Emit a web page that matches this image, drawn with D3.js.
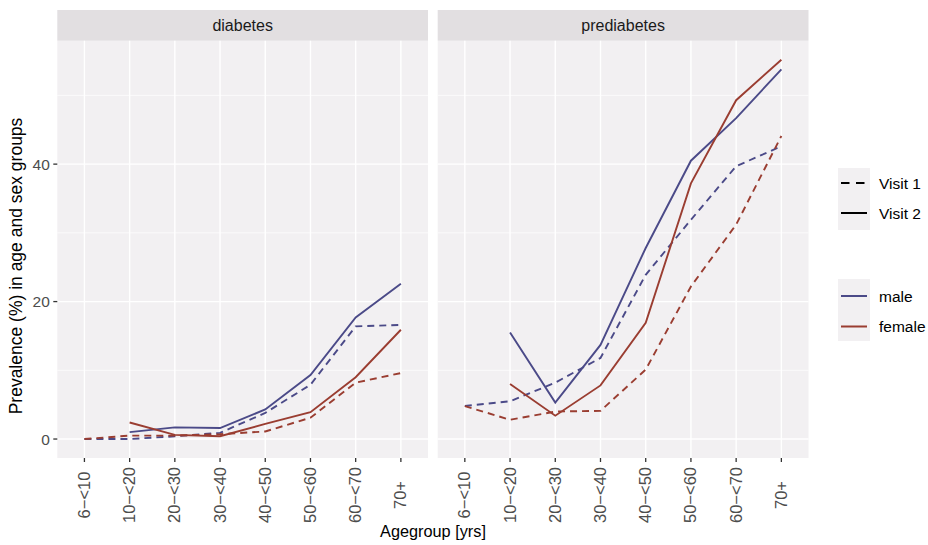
<!DOCTYPE html>
<html><head><meta charset="utf-8">
<script src="https://cdn.jsdelivr.net/npm/d3@7"></script>
<style>
body{margin:0;background:#fff}
text{font-family:"Liberation Sans",Arial,Helvetica,sans-serif}
</style>
</head><body>
<svg id="chart" width="928" height="545"></svg>
<script>
// ---------- data ----------
const panels = ["diabetes", "prediabetes"];
const ageGroups = ["6\u2212<10", "10\u2212<20", "20\u2212<30", "30\u2212<40", "40\u2212<50", "50\u2212<60", "60\u2212<70", "70+"];
const visits = ["Visit 1", "Visit 2"];
const sexes = ["male", "female"];
const yTicks = [0, 20, 40];
const yMinorTicks = [10, 30, 50];

// prevalence (%), null = not observed
const diabetesMaleV1      = [0.0, 0.0, 0.4, 0.9, 3.8, 7.9, 16.4, 16.6];
const diabetesMaleV2      = [null, 1.0, 1.7, 1.6, 4.3, 9.3, 17.7, 22.6];
const diabetesFemaleV1    = [0.0, 0.5, 0.5, 0.7, 1.1, 3.1, 8.2, 9.6];
const diabetesFemaleV2    = [null, 2.4, 0.6, 0.4, 2.2, 3.9, 9.0, 15.9];
const prediabetesMaleV1   = [4.8, 5.5, 8.2, 11.8, 23.9, 31.9, 39.7, 42.6];
const prediabetesMaleV2   = [null, 15.5, 5.3, 13.7, 27.8, 40.5, 46.7, 53.8];
const prediabetesFemaleV1 = [4.8, 2.8, 4.0, 4.1, 10.1, 22.2, 31.2, 44.1];
const prediabetesFemaleV2 = [null, 8.0, 3.4, 7.8, 16.9, 37.2, 49.3, 55.2];

const seriesByPanel = {
  diabetes: [
    {sex: "male", visit: "Visit 1", values: diabetesMaleV1},
    {sex: "male", visit: "Visit 2", values: diabetesMaleV2},
    {sex: "female", visit: "Visit 1", values: diabetesFemaleV1},
    {sex: "female", visit: "Visit 2", values: diabetesFemaleV2}
  ],
  prediabetes: [
    {sex: "male", visit: "Visit 1", values: prediabetesMaleV1},
    {sex: "male", visit: "Visit 2", values: prediabetesMaleV2},
    {sex: "female", visit: "Visit 1", values: prediabetesFemaleV1},
    {sex: "female", visit: "Visit 2", values: prediabetesFemaleV2}
  ]
};

// ---------- style ----------
const sexColor = d3.scaleOrdinal().domain(sexes).range(["#4B4A88", "#9A3D31"]);
const visitDash = d3.scaleOrdinal().domain(visits).range(["7,5", null]);
const panelBg = "#F2F0F2", stripBg = "#E2DFE1", tickCol = "#4D4D4D";

const svg = d3.select("#chart");
const panelBoxes = [{x0: 57.3, x1: 428}, {x0: 437.7, x1: 808.5}];
const pTop = 40.7, pBottom = 458, sTop = 10;

// y scale with 5% expansion of data range
const allVals = Object.values(seriesByPanel).flat().flatMap(s => s.values).filter(v => v != null);
const yLo = d3.min(allVals), yHi = d3.max(allVals);
const ex = (yHi - yLo) * 0.05;
const y = d3.scaleLinear().domain([yLo - ex, yHi + ex]).range([pBottom, pTop]);

panels.forEach((name, i) => {
  const b = panelBoxes[i];
  const x = d3.scalePoint().domain(ageGroups).range([b.x0, b.x1]).padding(0.6);
  const g = svg.append("g");
  // panel background
  g.append("rect").attr("x", b.x0).attr("y", pTop).attr("width", b.x1 - b.x0).attr("height", pBottom - pTop).attr("fill", panelBg);
  // strip
  g.append("rect").attr("x", b.x0).attr("y", sTop).attr("width", b.x1 - b.x0).attr("height", pTop - sTop).attr("fill", stripBg);
  g.append("text").attr("x", (b.x0 + b.x1) / 2).attr("y", (sTop + pTop) / 2).attr("dy", "0.35em")
    .attr("text-anchor", "middle").attr("font-size", 16).attr("fill", "#1A1A1A").text(name);
  // grid
  g.selectAll(".ymin").data(yMinorTicks).join("line")
    .attr("x1", b.x0).attr("x2", b.x1).attr("y1", d => y(d)).attr("y2", d => y(d))
    .attr("stroke", "#fff").attr("stroke-width", 0.7);
  g.selectAll(".ymaj").data(yTicks).join("line")
    .attr("x1", b.x0).attr("x2", b.x1).attr("y1", d => y(d)).attr("y2", d => y(d))
    .attr("stroke", "#fff").attr("stroke-width", 1.4);
  g.selectAll(".xmaj").data(ageGroups).join("line")
    .attr("x1", d => x(d)).attr("x2", d => x(d)).attr("y1", pTop).attr("y2", pBottom)
    .attr("stroke", "#fff").attr("stroke-width", 1.4);
  // x axis ticks + labels
  g.selectAll(".xt").data(ageGroups).join("line")
    .attr("x1", d => x(d)).attr("x2", d => x(d)).attr("y1", pBottom).attr("y2", pBottom + 4)
    .attr("stroke", "#333").attr("stroke-width", 1.3);
  g.selectAll(".xl").data(ageGroups).join("text")
    .attr("transform", d => `translate(${x(d) + 5.5},495) rotate(-90)`)
    .attr("text-anchor", "middle").attr("font-size", 16.5).attr("fill", tickCol).text(d => d);
  // lines
  const line = d3.line().defined(v => v != null).x((v, k) => x(ageGroups[k])).y(v => y(v));
  g.selectAll(".series").data(seriesByPanel[name]).join("path")
    .attr("d", s => line(s.values))
    .attr("fill", "none")
    .attr("stroke", s => sexColor(s.sex))
    .attr("stroke-width", 1.9)
    .attr("stroke-dasharray", s => visitDash(s.visit));
  // y axis on first panel
  if (i === 0) {
    g.selectAll(".yt").data(yTicks).join("line")
      .attr("x1", b.x0 - 4).attr("x2", b.x0).attr("y1", d => y(d)).attr("y2", d => y(d))
      .attr("stroke", "#333").attr("stroke-width", 1.3);
    g.selectAll(".yl").data(yTicks).join("text")
      .attr("x", b.x0 - 7.5).attr("y", d => y(d)).attr("dy", "0.36em")
      .attr("text-anchor", "end").attr("font-size", 15.5).attr("fill", tickCol).text(d => d);
  }
});

// axis titles
svg.append("text").attr("x", 433).attr("y", 537).attr("text-anchor", "middle")
  .attr("font-size", 16.3).attr("fill", "#000").text("Agegroup [yrs]");
svg.append("text").attr("transform", "translate(22,266) rotate(-90)").attr("text-anchor", "middle")
  .attr("font-size", 17.5).attr("fill", "#000")
  .text("Prevalence (%) in age and sex groups");

// legends
const keyX0 = 838, keyX1 = 870, labX = 879;
const lg1 = svg.append("g");
lg1.append("rect").attr("x", keyX0).attr("y", 168).attr("width", keyX1 - keyX0).attr("height", 62).attr("fill", panelBg);
const visitY = d3.scalePoint().domain(visits).range([183, 213]);
lg1.selectAll("line").data(visits).join("line")
  .attr("x1", keyX0 + 3).attr("x2", keyX1 - 3).attr("y1", d => visitY(d)).attr("y2", d => visitY(d))
  .attr("stroke", "#000").attr("stroke-width", 2)
  .attr("stroke-dasharray", d => d === "Visit 1" ? "8.5,6.5" : null);
lg1.selectAll("text").data(visits).join("text")
  .attr("x", labX).attr("y", d => visitY(d)).attr("dy", "0.36em")
  .attr("font-size", 15.5).attr("fill", "#000").text(d => d);

const lg2 = svg.append("g");
lg2.append("rect").attr("x", keyX0).attr("y", 279).attr("width", keyX1 - keyX0).attr("height", 62).attr("fill", panelBg);
const sexY = d3.scalePoint().domain(sexes).range([296, 326.5]);
lg2.selectAll("line").data(sexes).join("line")
  .attr("x1", keyX0 + 3).attr("x2", keyX1 - 3).attr("y1", d => sexY(d)).attr("y2", d => sexY(d))
  .attr("stroke", d => sexColor(d)).attr("stroke-width", 2);
lg2.selectAll("text").data(sexes).join("text")
  .attr("x", labX).attr("y", d => sexY(d)).attr("dy", "0.36em")
  .attr("font-size", 15.5).attr("fill", "#000").text(d => d);
</script>
</body></html>
